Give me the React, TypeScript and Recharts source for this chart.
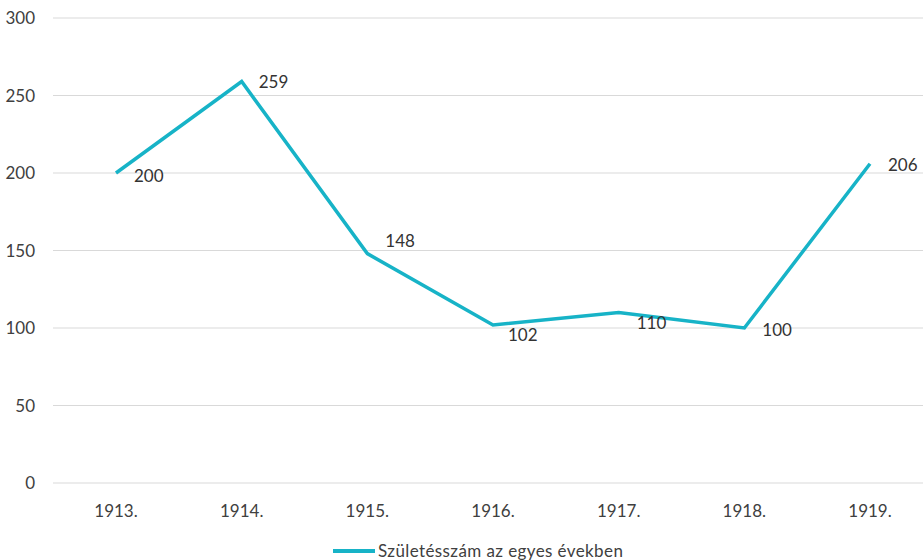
import { LineChart, Line, XAxis, YAxis, CartesianGrid, Legend, LabelList } from "recharts";

const years = ["1913.", "1914.", "1915.", "1916.", "1917.", "1918.", "1919."];
const births = [200, 259, 148, 102, 110, 100, 206];
const yTicks = [0, 50, 100, 150, 200, 250, 300];
const seriesName = "Születésszám az egyes években";

// label offsets from each point (dx, dy to text centre), as placed in the original
const labelOffsets = [
  [18, 2],
  [17, 0],
  [18, -13],
  [15, 10],
  [18, 10],
  [18, 1],
  [18, 1],
];

const data = years.map((year, i) => ({ year, births: births[i] }));

const LINE = "#17b3c7";
const FONT = "Lato, 'Open Sans', sans-serif";

function PointLabel(props: any) {
  const { x, y, value, index } = props;
  const [dx, dy] = labelOffsets[index] || [15, 0];
  return (
    <text x={x + dx} y={y + dy} dominantBaseline="central" fill="#333" fontSize={17} fontFamily={FONT}>
      {value}
    </text>
  );
}

function LegendContent() {
  return (
    <div style={{ display: "flex", alignItems: "center", fontFamily: FONT, fontSize: 17, lineHeight: "20px", color: "#404040", letterSpacing: 0.4 }}>
      <span style={{ display: "inline-block", width: 42, height: 4, background: LINE, marginRight: 3 }} />
      <span>{seriesName}</span>
    </div>
  );
}

export default function App() {
  return (
    <div style={{ position: "absolute", top: 0, left: 0, width: 923, height: 560, overflow: "hidden", background: "#fff" }}>
      <LineChart width={950} height={560} data={data} margin={{ top: 18, right: 17, left: 0, bottom: 23 }}>
        <CartesianGrid vertical={false} stroke="#d9d9d9" strokeWidth={1} />
        <XAxis
          dataKey="year"
          axisLine={false}
          tickLine={false}
          tickMargin={16}
          height={30}
          padding={{ left: 63, right: 63 }}
          tick={{ fill: "#404040", fontSize: 17, fontFamily: FONT }}
        />
        <YAxis
          domain={[0, 300]}
          ticks={yTicks}
          width={53}
          axisLine={false}
          tickLine={false}
          tickMargin={12}
          tick={{ fill: "#404040", fontSize: 17, fontFamily: FONT }}
        />
        <Legend
          verticalAlign="bottom"
          height={24}
          content={<LegendContent />}
          wrapperStyle={{ top: 541, left: 333, width: "auto" }}
        />
        <Line
          type="linear"
          dataKey="births"
          name={seriesName}
          stroke={LINE}
          strokeWidth={3.5}
          dot={false}
          activeDot={false}
          isAnimationActive={false}
        >
          <LabelList dataKey="births" content={<PointLabel />} />
        </Line>
      </LineChart>
    </div>
  );
}
